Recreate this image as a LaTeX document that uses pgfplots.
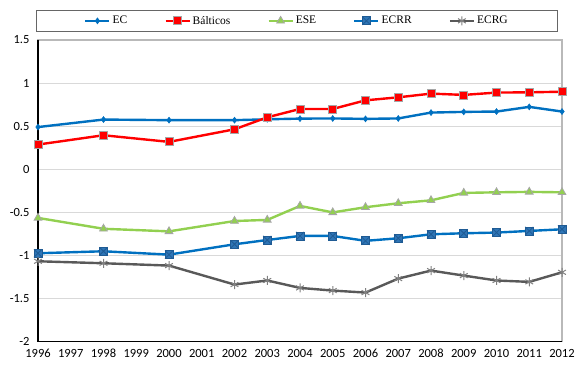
\documentclass[border=0pt]{standalone}
\usepackage{fontspec}
\setmainfont{Liberation Serif}
\newfontfamily\calfont{Carlito}
\usepackage{pgfplots}
\pgfplotsset{compat=1.18}
\definecolor{ecblue}{HTML}{0070C0}
\definecolor{balred}{HTML}{FF0000}
\definecolor{esegreen}{HTML}{92D050}
\definecolor{rrfill}{HTML}{2E75B6}
\definecolor{rredge}{HTML}{1F5B94}
\definecolor{rggray}{HTML}{595959}
\definecolor{mkgray}{HTML}{A6A6A6}
\definecolor{gridgray}{HTML}{D9D9D9}
\pgfdeclareplotmark{sqx}{%
  \pgfpathrectangle{\pgfqpoint{-\pgfplotmarksize}{-\pgfplotmarksize}}{\pgfqpoint{2\pgfplotmarksize}{2\pgfplotmarksize}}%
  \pgfusepathqfillstroke
  \pgfpathmoveto{\pgfqpoint{-\pgfplotmarksize}{-\pgfplotmarksize}}\pgfpathlineto{\pgfqpoint{\pgfplotmarksize}{\pgfplotmarksize}}%
  \pgfpathmoveto{\pgfqpoint{-\pgfplotmarksize}{\pgfplotmarksize}}\pgfpathlineto{\pgfqpoint{\pgfplotmarksize}{-\pgfplotmarksize}}%
  \pgfusepathqstroke}
\begin{document}
\begin{tikzpicture}
\path[use as bounding box] (-38pt,-27.3pt) rectangle (547pt,341.7pt);
\begin{axis}[
  scale only axis, width=524pt, height=301.7pt,
  at={(0pt,0pt)}, anchor=south west,
  xmin=1996, xmax=2012, ymin=-2, ymax=1.5,
  xtick={1996,1997,...,2012},
  ytick={-2,-1.5,-1,-0.5,0,0.5,1,1.5},
  yticklabels={-2,-1.5,-1,-0.5,0,0.5,1,1.5},
  xticklabel style={font=\calfont\fontsize{12.5}{14}\selectfont, /pgf/number format/1000 sep={}, /pgf/number format/assume math mode=true, yshift=-4pt},
  yticklabel style={font=\calfont\fontsize{12.5}{14}\selectfont, xshift=-5pt},
  major tick length=0pt,
  ymajorgrids, grid style={gridgray, line width=0.9pt},
  axis line style={draw=gray!55, line width=1.5pt},
  clip=false,
  legend columns=5,
  legend style={at={(0.5,1)}, anchor=south, xshift=-3pt, yshift=8pt, draw=gray!80!black, line width=0.8pt,
    font=\fontsize{11.5}{13}\selectfont, inner xsep=48pt, inner ysep=4pt,
    /tikz/every even column/.append style={column sep=35pt}},
  legend image code/.code={\draw[mark repeat=2,mark phase=2] plot coordinates {(0pt,0pt)(12pt,0pt)(24pt,0pt)};},
]
\draw[black, line width=1.3pt] (rel axis cs:0,1) -- (rel axis cs:0,0) -- (rel axis cs:1,0);
\addplot[ecblue, line width=2.4pt, mark=diamond*, mark size=3pt, mark options={fill=ecblue, draw=ecblue, line width=0.5pt}] coordinates {
(1996,0.49)(1998,0.577)(2000,0.57)(2002,0.57)(2003,0.58)(2004,0.588)(2005,0.59)(2006,0.585)(2007,0.59)(2008,0.658)(2009,0.666)(2010,0.67)(2011,0.724)(2012,0.67)};
\addlegendentry{EC}
\addplot[balred, line width=2.4pt, mark=square*, mark size=4pt, mark options={fill=balred, draw=mkgray, line width=0.8pt}] coordinates {
(1996,0.287)(1998,0.395)(2000,0.318)(2002,0.464)(2003,0.603)(2004,0.70)(2005,0.70)(2006,0.80)(2007,0.835)(2008,0.878)(2009,0.863)(2010,0.89)(2011,0.893)(2012,0.90)};
\addlegendentry{Bálticos}
\addplot[esegreen, line width=2.4pt, mark=triangle*, mark size=4.5pt, mark options={fill=esegreen, draw=mkgray, line width=0.8pt}] coordinates {
(1996,-0.564)(1998,-0.69)(2000,-0.72)(2002,-0.60)(2003,-0.587)(2004,-0.425)(2005,-0.50)(2006,-0.44)(2007,-0.394)(2008,-0.36)(2009,-0.274)(2010,-0.267)(2011,-0.262)(2012,-0.267)};
\addlegendentry{ESE}
\addplot[ecblue, line width=2.4pt, mark=sqx, mark size=4pt, mark options={fill=rrfill, draw=rredge, line width=0.8pt}] coordinates {
(1996,-0.974)(1998,-0.951)(2000,-0.99)(2002,-0.87)(2003,-0.82)(2004,-0.773)(2005,-0.773)(2006,-0.83)(2007,-0.80)(2008,-0.754)(2009,-0.742)(2010,-0.734)(2011,-0.715)(2012,-0.696)};
\addlegendentry{ECRR}
\addplot[rggray, line width=2.4pt, mark=asterisk, mark size=4.5pt, mark options={draw=gray, line width=1pt}] coordinates {
(1996,-1.067)(1998,-1.09)(2000,-1.117)(2002,-1.337)(2003,-1.29)(2004,-1.376)(2005,-1.407)(2006,-1.43)(2007,-1.268)(2008,-1.175)(2009,-1.233)(2010,-1.29)(2011,-1.306)(2012,-1.195)};
\addlegendentry{ECRG}
\end{axis}
\end{tikzpicture}
\end{document}
